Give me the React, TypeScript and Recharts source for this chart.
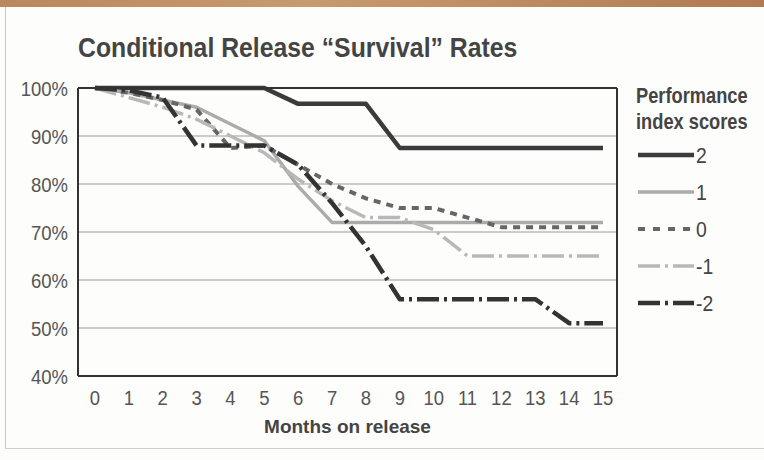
import React from 'react';
import { LineChart, Line, XAxis, YAxis, CartesianGrid } from 'recharts';

const months = ['0','1','2','3','4','5','6','7','8','9','10','11','12','13','14','15'];
const score2 = [100,100,100,100,100,100,96.7,96.7,96.7,87.5,87.5,87.5,87.5,87.5,87.5,87.5];
const score1 = [100,99,97.5,96,92.5,89,79.5,72,72,72,72,72,72,72,72,72];
const score0 = [100,99,97.5,95.5,87.5,88,84,80,77,75,75,73,71,71,71,71];
const scoreM1 = [100,98,96,93.5,90,86.5,81,76.5,73,73,70.5,65,65,65,65,65];
const scoreM2 = [100,99.5,98,88,88,88,84,76,67,56,56,56,56,56,51,51];
const yTicks = [40,50,60,70,80,90,100];

const seriesDefs = [
  { key: 's2', name: '2', values: score2, color: '#3b3b3b', width: 4.5, dash: undefined as string | undefined, legendDash: undefined as string | undefined },
  { key: 's1', name: '1', values: score1, color: '#ababab', width: 3.5, dash: undefined, legendDash: undefined },
  { key: 's0', name: '0', values: score0, color: '#666666', width: 4, dash: '7 6', legendDash: '7 8' },
  { key: 'sm1', name: '-1', values: scoreM1, color: '#b8b8b8', width: 3.5, dash: '22 5 3 5', legendDash: '22 5 3 5' },
  { key: 'sm2', name: '-2', values: scoreM2, color: '#333333', width: 4.5, dash: '22 5 3 5', legendDash: '22 5 3 5' },
];

const data = months.map((m, i) => {
  const row: any = { month: m };
  seriesDefs.forEach((s) => { row[s.key] = s.values[i]; });
  return row;
});

const FONT = '"Liberation Sans", Arial, sans-serif';

const XTick = (props: any) => {
  const { x, y, payload } = props;
  return (
    <g transform={`translate(${x},${y})`}>
      <text transform="scale(0.88,1)" textAnchor="middle" dy="0.71em" fontSize={21} fill="#555" fontFamily={FONT}>{payload.value}</text>
    </g>
  );
};

const YTick = (props: any) => {
  const { x, y, payload } = props;
  return (
    <g transform={`translate(${x},${y})`}>
      <text transform="scale(0.88,1)" textAnchor="end" dy="0.36em" fontSize={21} fill="#555" fontFamily={FONT}>{`${payload.value}%`}</text>
    </g>
  );
};

const LegendBox = () => (
  <div style={{ position: 'absolute', left: 636, top: 83, fontFamily: FONT, color: '#444' }}>
    <div style={{ fontWeight: 'bold', fontSize: 22, lineHeight: '26px', transform: 'scaleX(0.83)', transformOrigin: 'left top', whiteSpace: 'nowrap' }}>
      Performance<br />index scores
    </div>
    <svg width={120} height={190} style={{ position: 'absolute', left: 0, top: 60 }}>
      {seriesDefs.map((s, i) => (
        <g key={s.key}>
          <line x1={2} x2={58} y1={12 + i * 37} y2={12 + i * 37} stroke={s.color} strokeWidth={s.width} strokeDasharray={s.legendDash} />
          <g transform={`translate(60,${12 + i * 37})`}>
            <text transform="scale(0.88,1)" dy="0.36em" fontSize={22} fill="#444" fontFamily={FONT}>{s.name}</text>
          </g>
        </g>
      ))}
    </svg>
  </div>
);

export default function App() {
  return (
    <div style={{ position: 'absolute', left: 0, top: 0, width: 764, height: 460, background: '#fdfdfc', overflow: 'hidden' }}>
      <div style={{ position: 'absolute', left: 0, top: 0, width: 764, height: 7, background: 'linear-gradient(90deg, #b98760, #c89a72 40%, #b07a52)' }} />
      <div style={{ position: 'absolute', left: 5, top: 7, width: 1, height: 442, background: '#c8c8c8' }} />
      <div style={{ position: 'absolute', left: 5, top: 448, width: 759, height: 1, background: '#d0d0d0' }} />
      <div style={{ position: 'absolute', left: 78, top: 34, fontFamily: FONT, fontWeight: 'bold', fontSize: 28, color: '#444', lineHeight: 1, whiteSpace: 'nowrap', transform: 'scaleX(0.885)', transformOrigin: 'left top' }}>
        Conditional Release “Survival” Rates
      </div>
      <div style={{ position: 'absolute', left: 0, top: 0 }}>
        <LineChart width={764} height={460} data={data} margin={{ top: 87, right: 146, bottom: 54, left: 18 }}>
          <CartesianGrid horizontal vertical={false} stroke="#9a9a9a" strokeWidth={1} />
          <XAxis dataKey="month" tickLine={false} axisLine={{ stroke: '#333', strokeWidth: 2 }} height={30}
            padding={{ left: 17, right: 14 }} tickMargin={8} tick={<XTick />} interval={0}
            label={{ value: 'Months on release', position: 'bottom', offset: 14, fill: '#444', fontSize: 19, fontWeight: 'bold', fontFamily: FONT }} />
          <XAxis xAxisId="top" orientation="top" dataKey="month" height={1} tick={false} tickLine={false} axisLine={{ stroke: '#333', strokeWidth: 2 }} padding={{ left: 17, right: 14 }} />
          <YAxis domain={[40, 100]} ticks={yTicks} width={60} tickLine={false} tickMargin={4}
            axisLine={{ stroke: '#333', strokeWidth: 2 }} tick={<YTick />} />
          <YAxis yAxisId="right" orientation="right" domain={[40, 100]} width={1} tick={false} tickLine={false} axisLine={{ stroke: '#333', strokeWidth: 2 }} />
          {seriesDefs.map((s) => (
            <Line key={s.key} dataKey={s.key} name={s.name} type="linear" stroke={s.color} strokeWidth={s.width}
              strokeDasharray={s.dash} dot={false} activeDot={false} isAnimationActive={false} strokeLinejoin="round" />
          ))}
        </LineChart>
      </div>
      <LegendBox />
    </div>
  );
}
